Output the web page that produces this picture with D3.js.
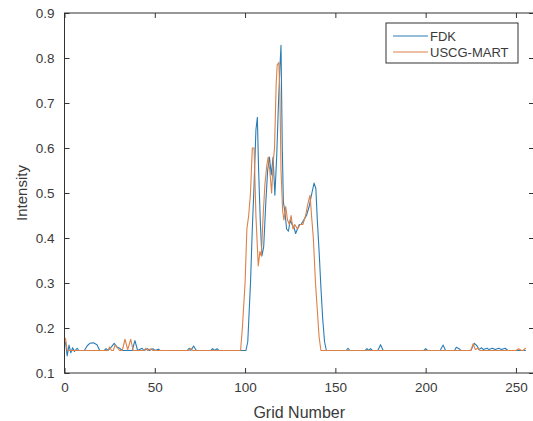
<!DOCTYPE html>
<html>
<head>
<meta charset="utf-8">
<script src="https://cdn.jsdelivr.net/npm/d3@7"></script>
<style>
  body { margin: 0; background: #fff; }
  text { font-family: "Liberation Sans", Arial, sans-serif; fill: #3a3a3a; }
</style>
</head>
<body>
<div id="chart"></div>
<script>
/* Intensity profile, FDK vs USCG-MART */

// tick labels
const xTicks = [0, 50, 100, 150, 200, 250];
const yTicks = [0.1, 0.2, 0.3, 0.4, 0.5, 0.6, 0.7, 0.8, 0.9];

// FDK profile (grid number, intensity)
const fdkX = [0.5, 1.5, 2.5, 3.5, 4.5, 5.5, 7, 8, 11, 12.5, 14, 16, 18, 19.5, 22, 23, 24, 26, 27.5, 29, 30.5, 32,
    37.5, 39, 40.5, 43, 44, 46, 47, 49, 50, 52, 53, 68, 69, 70, 71.5, 73, 81, 82, 83, 84.5, 85.5,
    100.5, 101.5, 103, 104, 105, 106, 106.8, 107.5, 108.5, 109.3, 110.3, 111.5, 112.5, 113.5, 114.5, 115.5,
    116.5, 117.5, 118.5, 119.3, 119.9, 120.6, 121.2, 122, 123, 124, 125, 126, 127, 128, 129, 130, 131,
    132.5, 134, 135.5, 137, 138.2, 139.2, 140, 141, 142, 143, 144, 145,
    156, 157, 158, 166.5, 167.5, 168.5, 169.5, 170.5, 173.5, 175, 176.5, 199, 200, 201, 208, 209.7, 211,
    216, 217, 218.5, 219.5, 225, 227, 228.5, 229.5, 231, 232, 234, 235, 237, 238.5, 240.5, 242, 244, 245.5, 255.5];
const fdkY = [0.17, 0.138, 0.162, 0.145, 0.156, 0.148, 0.155, 0.15, 0.15, 0.16, 0.166, 0.167, 0.163, 0.15, 0.15, 0.154, 0.15, 0.158, 0.166, 0.158, 0.155, 0.15,
    0.15, 0.172, 0.15, 0.155, 0.15, 0.154, 0.15, 0.154, 0.15, 0.153, 0.15, 0.15, 0.155, 0.15, 0.16, 0.15, 0.15, 0.154, 0.15, 0.154, 0.15,
    0.15, 0.17, 0.3, 0.42, 0.52, 0.64, 0.668, 0.55, 0.43, 0.36, 0.38, 0.48, 0.55, 0.58, 0.54, 0.58,
    0.495, 0.58, 0.7, 0.78, 0.828, 0.6, 0.48, 0.46, 0.42, 0.415, 0.44, 0.43, 0.425, 0.41, 0.42, 0.43, 0.43,
    0.44, 0.45, 0.47, 0.5, 0.522, 0.51, 0.44, 0.37, 0.29, 0.22, 0.17, 0.15,
    0.15, 0.155, 0.15, 0.15, 0.154, 0.15, 0.154, 0.15, 0.15, 0.163, 0.15, 0.15, 0.154, 0.15, 0.15, 0.162, 0.15,
    0.15, 0.157, 0.154, 0.15, 0.15, 0.166, 0.16, 0.152, 0.156, 0.152, 0.155, 0.152, 0.155, 0.152, 0.155, 0.152, 0.155, 0.15, 0.15];

// USCG-MART profile
const martX = [0.5, 1.5, 24, 25, 26, 27, 28, 29.5, 30.5, 32, 33.5, 35, 36.7, 38, 44, 45, 46, 48, 49, 69, 70, 71,
    97.5, 98.5, 100, 101, 102, 103, 104, 105, 106, 107.3, 108.2, 109, 110, 111, 112, 112.8, 113.7, 114.7, 115.6,
    116.3, 117.2, 117.8, 118.7, 119.3, 119.9, 120.8, 121.5, 122.5, 123.5, 124.5, 125.5, 126.5, 127.5, 129,
    130.5, 132, 133.5, 135, 136, 136.8, 137.8, 139, 140, 141, 142,
    225, 226.3, 227.5, 229, 230, 250, 251.5, 253, 254, 255.5];
const martY = [0.178, 0.15, 0.15, 0.158, 0.15, 0.15, 0.162, 0.155, 0.15, 0.15, 0.175, 0.152, 0.175, 0.15, 0.15, 0.155, 0.15, 0.154, 0.15, 0.15, 0.155, 0.15,
    0.15, 0.2, 0.3, 0.42, 0.45, 0.5, 0.6, 0.6, 0.45, 0.338, 0.37, 0.36, 0.45, 0.52, 0.56, 0.58, 0.55, 0.5, 0.57,
    0.6, 0.74, 0.785, 0.79, 0.72, 0.55, 0.46, 0.44, 0.47, 0.44, 0.43, 0.45, 0.42, 0.43, 0.42,
    0.43, 0.43, 0.45, 0.48, 0.495, 0.45, 0.4, 0.3, 0.24, 0.18, 0.15,
    0.15, 0.165, 0.152, 0.155, 0.15, 0.15, 0.154, 0.15, 0.15, 0.156];

const seriesNames = ["FDK", "USCG-MART"];
const seriesColors = ["#2a7db4", "#dc8148"];

// page layout
const height = 421,
    width = 533,
    margin = ({ top: 13, right: -1, bottom: 48, left: 64.5 });

let svg = d3.select("#chart")
    .append("svg")
    .attr("width", width)
    .attr("height", height)
    .attr("viewBox", [0, 0, width, height]);

// x-scale, axis box runs a bit past the picture edge
let x = d3.scaleLinear()
    .domain([0, 260])
    .range([margin.left, width - margin.right]);

let y = d3.scaleLinear()
    .domain([0.1, 0.9])
    .range([height - margin.bottom, margin.top]);

const axisColor = "#333";

// bottom axis with ticks pointing in
let xAxis = svg.append("g")
    .attr("transform", `translate(0,${y(0.1)})`)
    .call(d3.axisBottom(x).tickValues(xTicks).tickSizeInner(-5).tickSizeOuter(0).tickPadding(9));

// top ticks, no labels
let xTop = svg.append("g")
    .attr("transform", `translate(0,${y(0.9)})`)
    .call(d3.axisTop(x).tickValues(xTicks).tickSizeInner(-5).tickSizeOuter(0).tickFormat(""));

// left axis
let yAxis = svg.append("g")
    .attr("transform", `translate(${x(0)},0)`)
    .call(d3.axisLeft(y).tickValues(yTicks).tickSizeInner(-5).tickSizeOuter(0).tickPadding(10).tickFormat(d3.format(".1f")));

let yRight = svg.append("g")
    .attr("transform", `translate(${x(260)},0)`)
    .call(d3.axisRight(y).tickValues(yTicks).tickSizeInner(-5).tickSizeOuter(0).tickFormat(""));

for (let g of [xAxis, xTop, yAxis, yRight]) {
    g.select(".domain").remove();
    g.selectAll(".tick line").attr("stroke", axisColor);
    g.selectAll("text")
        .attr("font-size", 13.5)
        .attr("fill", "#3a3a3a");
}

// axes box
svg.append("rect")
    .attr("x", x(0))
    .attr("y", y(0.9))
    .attr("width", x(260) - x(0))
    .attr("height", y(0.1) - y(0.9))
    .attr("fill", "none")
    .attr("stroke", axisColor)
    .attr("stroke-width", 1);

// lines
let line = d3.line()
    .x(d => x(d[0]))
    .y(d => y(d[1]));

const series = [d3.zip(fdkX, fdkY), d3.zip(martX, martY)];

svg.selectAll(".series")
    .data(series)
    .join("path")
    .attr("class", "series")
    .attr("fill", "none")
    .attr("stroke", (d, i) => seriesColors[i])
    .attr("stroke-width", 1.1)
    .attr("stroke-linejoin", "round")
    .attr("d", line);

// axis titles
svg.append("text")
    .text("Grid Number")
    .attr("x", (x(0) + x(250)) / 2 + 9)
    .attr("y", 418)
    .attr("text-anchor", "middle")
    .attr("font-size", 16);

svg.append("text")
    .text("Intensity")
    .attr("transform", `translate(27,${(y(0.1) + y(0.9)) / 2}) rotate(-90)`)
    .attr("text-anchor", "middle")
    .attr("font-size", 15);

// legend
let legend = svg.append("g");

legend.append("rect")
    .attr("x", 386)
    .attr("y", 23)
    .attr("width", 132)
    .attr("height", 40)
    .attr("fill", "#fff")
    .attr("stroke", axisColor)
    .attr("stroke-width", 1);

let item = legend.selectAll(".item")
    .data(seriesNames)
    .join("g")
    .attr("class", "item")
    .attr("transform", (d, i) => `translate(0,${36 + i * 16})`);

item.append("line")
    .attr("x1", 393)
    .attr("x2", 428)
    .attr("stroke", (d, i) => seriesColors[i])
    .attr("stroke-width", 1.1);

item.append("text")
    .text(d => d)
    .attr("x", 430)
    .attr("dy", "0.36em")
    .attr("font-size", 13);
</script>
</body>
</html>
